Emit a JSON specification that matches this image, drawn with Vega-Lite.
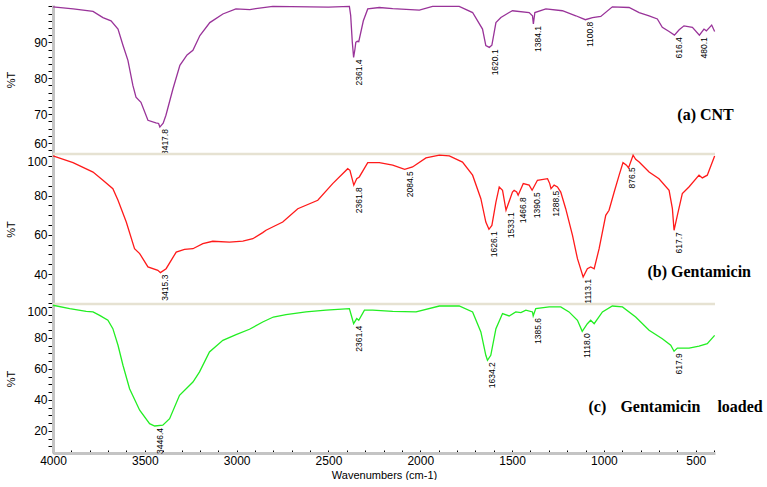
{
  "$schema": "https://vega.github.io/schema/vega-lite/v6.json",
  "padding": {"left": 5, "top": 3, "right": 0, "bottom": 0},
  "background": "white",
  "spacing": 0,
  "bounds": "flush",
  "config": {
    "view": {"stroke": null},
    "concat": {"spacing": 0},
    "font": "Liberation Sans",
    "axis": {
      "grid": false,
      "domainColor": "#c4c4c4",
      "domainWidth": 3,
      "tickColor": "#000000",
      "tickWidth": 1,
      "tickSize": 5,
      "labelFont": "Liberation Sans",
      "labelFontSize": 12,
      "labelColor": "#000000",
      "labelPadding": 1,
      "labelOverlap": false,
      "titleFont": "Liberation Sans",
      "titleFontSize": 11,
      "titleFontWeight": "normal",
      "titleColor": "#000000"
    }
  },
  "datasets": {
    "cnt": [
      {"wn": 4000, "t": 99.9}, {"wn": 3890, "t": 99.3}, {"wn": 3782, "t": 98.6}, {"wn": 3728, "t": 96.9}, {"wn": 3684, "t": 96.0},
      {"wn": 3646, "t": 93.7}, {"wn": 3619, "t": 89.2}, {"wn": 3592, "t": 85.0}, {"wn": 3565, "t": 78.0}, {"wn": 3548, "t": 74.7},
      {"wn": 3521, "t": 73.3}, {"wn": 3483, "t": 68.3}, {"wn": 3440, "t": 67.6}, {"wn": 3425, "t": 67.4}, {"wn": 3418, "t": 66.4},
      {"wn": 3400, "t": 67.5}, {"wn": 3385, "t": 69.7}, {"wn": 3347, "t": 77.0}, {"wn": 3309, "t": 83.6}, {"wn": 3270, "t": 86.5},
      {"wn": 3238, "t": 87.8}, {"wn": 3200, "t": 91.9}, {"wn": 3146, "t": 95.5}, {"wn": 3075, "t": 97.9}, {"wn": 3004, "t": 99.3},
      {"wn": 2928, "t": 99.1}, {"wn": 2896, "t": 99.4}, {"wn": 2803, "t": 100.0}, {"wn": 2500, "t": 99.8}, {"wn": 2386, "t": 100.0},
      {"wn": 2379, "t": 97.5}, {"wn": 2370, "t": 90.0}, {"wn": 2363, "t": 85.8}, {"wn": 2356, "t": 88.0}, {"wn": 2351, "t": 90.0},
      {"wn": 2343, "t": 90.3}, {"wn": 2335, "t": 90.2}, {"wn": 2310, "t": 96.0}, {"wn": 2286, "t": 99.3}, {"wn": 2223, "t": 99.7},
      {"wn": 2150, "t": 99.4}, {"wn": 2005, "t": 99.0}, {"wn": 1933, "t": 100.0}, {"wn": 1788, "t": 100.0}, {"wn": 1715, "t": 98.3},
      {"wn": 1661, "t": 93.7}, {"wn": 1643, "t": 89.1}, {"wn": 1624, "t": 88.6}, {"wn": 1610, "t": 89.2}, {"wn": 1588, "t": 95.5},
      {"wn": 1561, "t": 96.9}, {"wn": 1516, "t": 98.3}, {"wn": 1498, "t": 98.8}, {"wn": 1407, "t": 98.3}, {"wn": 1389, "t": 97.4},
      {"wn": 1384, "t": 95.1}, {"wn": 1376, "t": 98.3}, {"wn": 1316, "t": 99.3}, {"wn": 1226, "t": 98.8}, {"wn": 1153, "t": 97.4},
      {"wn": 1101, "t": 96.3}, {"wn": 1062, "t": 96.9}, {"wn": 1017, "t": 97.2}, {"wn": 954, "t": 99.9}, {"wn": 863, "t": 99.7},
      {"wn": 808, "t": 98.3}, {"wn": 754, "t": 97.4}, {"wn": 709, "t": 96.5}, {"wn": 682, "t": 94.2}, {"wn": 645, "t": 93.0},
      {"wn": 616, "t": 92.0}, {"wn": 590, "t": 93.5}, {"wn": 564, "t": 94.6}, {"wn": 518, "t": 94.2}, {"wn": 480, "t": 92.0},
      {"wn": 455, "t": 93.7}, {"wn": 442, "t": 93.2}, {"wn": 413, "t": 94.8}, {"wn": 397, "t": 93.0}
    ],
    "gen": [
      {"wn": 4000, "t": 100.2}, {"wn": 3891, "t": 96.8}, {"wn": 3782, "t": 92.0}, {"wn": 3728, "t": 87.8}, {"wn": 3674, "t": 83.5},
      {"wn": 3646, "t": 77.6}, {"wn": 3601, "t": 66.5}, {"wn": 3556, "t": 52.9}, {"wn": 3528, "t": 50.4}, {"wn": 3483, "t": 43.6},
      {"wn": 3429, "t": 41.9}, {"wn": 3415, "t": 40.7}, {"wn": 3384, "t": 42.7}, {"wn": 3329, "t": 51.2}, {"wn": 3284, "t": 52.6},
      {"wn": 3238, "t": 52.9}, {"wn": 3184, "t": 55.5}, {"wn": 3130, "t": 56.7}, {"wn": 3039, "t": 56.3}, {"wn": 2966, "t": 56.8},
      {"wn": 2912, "t": 58.0}, {"wn": 2858, "t": 61.1}, {"wn": 2840, "t": 62.3}, {"wn": 2749, "t": 66.5}, {"wn": 2667, "t": 73.3},
      {"wn": 2558, "t": 77.6}, {"wn": 2477, "t": 86.1}, {"wn": 2395, "t": 93.7}, {"wn": 2383, "t": 92.9}, {"wn": 2362, "t": 85.3},
      {"wn": 2346, "t": 88.6}, {"wn": 2332, "t": 89.5}, {"wn": 2286, "t": 96.8}, {"wn": 2223, "t": 96.8}, {"wn": 2150, "t": 95.5},
      {"wn": 2085, "t": 93.4}, {"wn": 2042, "t": 94.6}, {"wn": 1969, "t": 99.2}, {"wn": 1896, "t": 100.6}, {"wn": 1842, "t": 100.2},
      {"wn": 1770, "t": 97.1}, {"wn": 1715, "t": 90.4}, {"wn": 1670, "t": 78.4}, {"wn": 1643, "t": 66.5}, {"wn": 1626, "t": 62.8},
      {"wn": 1610, "t": 64.8}, {"wn": 1588, "t": 76.7}, {"wn": 1570, "t": 84.4}, {"wn": 1552, "t": 82.7}, {"wn": 1533, "t": 72.5},
      {"wn": 1498, "t": 81.8}, {"wn": 1489, "t": 82.7}, {"wn": 1475, "t": 81.8}, {"wn": 1467, "t": 80.2}, {"wn": 1439, "t": 86.1},
      {"wn": 1407, "t": 85.3}, {"wn": 1391, "t": 82.7}, {"wn": 1362, "t": 87.8}, {"wn": 1307, "t": 88.6}, {"wn": 1295, "t": 86.1},
      {"wn": 1288, "t": 83.5}, {"wn": 1271, "t": 85.3}, {"wn": 1253, "t": 84.4}, {"wn": 1235, "t": 81.8}, {"wn": 1208, "t": 73.3},
      {"wn": 1171, "t": 59.7}, {"wn": 1144, "t": 47.8}, {"wn": 1113, "t": 38.5}, {"wn": 1090, "t": 42.7}, {"wn": 1072, "t": 43.6},
      {"wn": 1053, "t": 42.7}, {"wn": 1026, "t": 52.9}, {"wn": 990, "t": 69.9}, {"wn": 972, "t": 72.5}, {"wn": 944, "t": 81.8},
      {"wn": 917, "t": 90.4}, {"wn": 896, "t": 96.8}, {"wn": 877, "t": 95.5}, {"wn": 866, "t": 94.1}, {"wn": 841, "t": 100.6},
      {"wn": 827, "t": 98.5}, {"wn": 808, "t": 97.1}, {"wn": 754, "t": 92.0}, {"wn": 700, "t": 88.6}, {"wn": 645, "t": 82.7},
      {"wn": 627, "t": 73.3}, {"wn": 618, "t": 62.3}, {"wn": 600, "t": 69.9}, {"wn": 573, "t": 81.0}, {"wn": 537, "t": 84.4},
      {"wn": 482, "t": 90.4}, {"wn": 464, "t": 89.0}, {"wn": 437, "t": 90.4}, {"wn": 397, "t": 100.2}
    ],
    "load": [
      {"wn": 4000, "t": 101.1}, {"wn": 3909, "t": 98.9}, {"wn": 3819, "t": 97.2}, {"wn": 3782, "t": 96.8}, {"wn": 3746, "t": 94.6},
      {"wn": 3701, "t": 91.4}, {"wn": 3674, "t": 86.0}, {"wn": 3646, "t": 75.3}, {"wn": 3619, "t": 62.4}, {"wn": 3583, "t": 47.3},
      {"wn": 3528, "t": 33.4}, {"wn": 3474, "t": 24.7}, {"wn": 3446, "t": 23.2}, {"wn": 3402, "t": 23.7}, {"wn": 3365, "t": 27.9},
      {"wn": 3311, "t": 43.0}, {"wn": 3238, "t": 51.6}, {"wn": 3202, "t": 58.1}, {"wn": 3148, "t": 71.0}, {"wn": 3075, "t": 78.5},
      {"wn": 3003, "t": 82.1}, {"wn": 2930, "t": 85.6}, {"wn": 2858, "t": 90.3}, {"wn": 2800, "t": 93.5}, {"wn": 2731, "t": 95.0},
      {"wn": 2622, "t": 96.8}, {"wn": 2513, "t": 97.9}, {"wn": 2386, "t": 98.9}, {"wn": 2373, "t": 93.5}, {"wn": 2363, "t": 89.2},
      {"wn": 2346, "t": 92.5}, {"wn": 2335, "t": 91.4}, {"wn": 2304, "t": 97.9}, {"wn": 2259, "t": 97.9}, {"wn": 2150, "t": 97.2},
      {"wn": 2023, "t": 96.8}, {"wn": 1896, "t": 100.6}, {"wn": 1788, "t": 100.6}, {"wn": 1715, "t": 96.8}, {"wn": 1670, "t": 83.9},
      {"wn": 1643, "t": 68.8}, {"wn": 1634, "t": 65.6}, {"wn": 1616, "t": 68.8}, {"wn": 1588, "t": 86.0}, {"wn": 1552, "t": 95.7},
      {"wn": 1516, "t": 94.2}, {"wn": 1480, "t": 96.8}, {"wn": 1452, "t": 96.3}, {"wn": 1425, "t": 97.9}, {"wn": 1389, "t": 96.8},
      {"wn": 1385, "t": 94.2}, {"wn": 1371, "t": 98.9}, {"wn": 1298, "t": 100.0}, {"wn": 1235, "t": 100.0}, {"wn": 1190, "t": 96.8},
      {"wn": 1144, "t": 91.4}, {"wn": 1118, "t": 84.3}, {"wn": 1090, "t": 89.2}, {"wn": 1072, "t": 91.4}, {"wn": 1053, "t": 89.2},
      {"wn": 1008, "t": 96.8}, {"wn": 954, "t": 100.6}, {"wn": 899, "t": 100.0}, {"wn": 827, "t": 93.5}, {"wn": 754, "t": 85.0},
      {"wn": 682, "t": 79.5}, {"wn": 636, "t": 75.3}, {"wn": 618, "t": 71.4}, {"wn": 600, "t": 73.5}, {"wn": 536, "t": 73.5},
      {"wn": 482, "t": 74.8}, {"wn": 437, "t": 76.3}, {"wn": 397, "t": 81.7}
    ],
    "peaks": [
      {"s": "a", "wn": 3417.8, "t": 66.4, "label": "3417.8"},
      {"s": "a", "wn": 2361.4, "t": 85.8, "label": "2361.4"},
      {"s": "a", "wn": 1620.1, "t": 88.6, "label": "1620.1"},
      {"s": "a", "wn": 1384.1, "t": 95.1, "label": "1384.1"},
      {"s": "a", "wn": 1100.8, "t": 96.3, "label": "1100.8"},
      {"s": "a", "wn": 616.4, "t": 92.0, "label": "616.4"},
      {"s": "a", "wn": 480.1, "t": 92.0, "label": "480.1"},
      {"s": "b", "wn": 3415.3, "t": 40.7, "label": "3415.3"},
      {"s": "b", "wn": 2361.8, "t": 85.3, "label": "2361.8"},
      {"s": "b", "wn": 2084.5, "t": 93.4, "label": "2084.5"},
      {"s": "b", "wn": 1626.1, "t": 62.8, "label": "1626.1"},
      {"s": "b", "wn": 1533.1, "t": 72.5, "label": "1533.1"},
      {"s": "b", "wn": 1466.8, "t": 80.2, "label": "1466.8"},
      {"s": "b", "wn": 1390.5, "t": 82.7, "label": "1390.5"},
      {"s": "b", "wn": 1288.5, "t": 83.5, "label": "1288.5"},
      {"s": "b", "wn": 1113.1, "t": 38.5, "label": "1113.1"},
      {"s": "b", "wn": 876.5, "t": 95.5, "label": "876.5"},
      {"s": "b", "wn": 617.7, "t": 62.3, "label": "617.7"},
      {"s": "c", "wn": 3446.4, "t": 23.2, "label": "3446.4"},
      {"s": "c", "wn": 2361.4, "t": 89.2, "label": "2361.4"},
      {"s": "c", "wn": 1634.2, "t": 65.6, "label": "1634.2"},
      {"s": "c", "wn": 1385.6, "t": 94.2, "label": "1385.6"},
      {"s": "c", "wn": 1118.0, "t": 84.3, "label": "1118.0"},
      {"s": "c", "wn": 617.9, "t": 71.4, "label": "617.9"}
    ],
    "notes": [
      {"s": "a", "wn": 600, "t": 69.7, "text": "(a) CNT"},
      {"s": "b", "wn": 763, "t": 41.0, "text": "(b) Gentamicin"},
      {"s": "c", "wn": 1084, "t": 35.5, "text": "(c)"},
      {"s": "c", "wn": 910, "t": 35.5, "text": "Gentamicin"},
      {"s": "c", "wn": 382, "t": 35.5, "text": "loaded"}
    ],
    "one": [{}]
  },
  "vconcat": [
    {
      "width": 662,
      "height": 149,
      "layer": [
        {
          "data": {"name": "cnt"},
          "mark": {"type": "line", "color": "#993399", "strokeWidth": 1.3},
          "encoding": {
            "x": {"field": "wn", "type": "quantitative", "scale": {"domain": [4000, 395], "nice": false, "zero": false}, "axis": null},
            "y": {"field": "t", "type": "quantitative", "title": "%T", "scale": {"domain": [58.9, 100.4], "nice": false, "zero": false},
              "axis": {"values": [60,62,64,66,68,70,72,74,76,78,80,82,84,86,88,90,92,94,96,98,100], "labelExpr": "datum.value % 10 === 0 && datum.value < 100 ? datum.label : ''", "labelFlush": 5, "labelOverlap": false, "titleX": -37}}
          }
        },
        {
          "data": {"name": "peaks"},
          "transform": [{"filter": "datum.s === 'a'"}],
          "mark": {"type": "text", "angle": 270, "align": "right", "baseline": "middle", "dx": -2, "dy": 5, "fontSize": 8.5, "font": "Liberation Sans", "color": "#000000"},
          "encoding": {
            "x": {"field": "wn", "type": "quantitative", "scale": {"domain": [4000, 395], "nice": false, "zero": false}, "axis": null},
            "y": {"field": "t", "type": "quantitative", "title": "%T", "scale": {"domain": [58.9, 100.4], "nice": false, "zero": false},
              "axis": {"values": [60,62,64,66,68,70,72,74,76,78,80,82,84,86,88,90,92,94,96,98,100], "labelExpr": "datum.value % 10 === 0 && datum.value < 100 ? datum.label : ''", "labelFlush": 5, "labelOverlap": false, "titleX": -37}},
            "text": {"field": "label"}
          }
        },
        {
          "data": {"name": "notes"},
          "transform": [{"filter": "datum.s === 'a'"}],
          "mark": {"type": "text", "align": "left", "baseline": "middle", "fontSize": 16, "font": "Liberation Serif", "fontWeight": "bold", "color": "#000000"},
          "encoding": {
            "x": {"field": "wn", "type": "quantitative", "scale": {"domain": [4000, 395], "nice": false, "zero": false}, "axis": null},
            "y": {"field": "t", "type": "quantitative", "title": "%T", "scale": {"domain": [58.9, 100.4], "nice": false, "zero": false},
              "axis": {"values": [60,62,64,66,68,70,72,74,76,78,80,82,84,86,88,90,92,94,96,98,100], "labelExpr": "datum.value % 10 === 0 && datum.value < 100 ? datum.label : ''", "labelFlush": 5, "labelOverlap": false, "titleX": -37}},
            "text": {"field": "text"}
          }
        }
      ]
    },
    {
      "width": 662,
      "height": 150,
      "layer": [
        {
          "data": {"name": "one"},
          "mark": {"type": "rule", "color": "#e6e2d2", "strokeWidth": 2.5},
          "encoding": {"y": {"datum": 101.2, "type": "quantitative", "title": "%T", "scale": {"domain": [24.7, 101.2], "nice": false, "zero": false},
              "axis": {"values": [25,30,35,40,45,50,55,60,65,70,75,80,85,90,95,100], "labelExpr": "datum.value % 20 === 0 ? datum.label : ''", "labelFlush": 5, "labelOverlap": false, "titleX": -37}}}
        },
        {
          "data": {"name": "gen"},
          "mark": {"type": "line", "color": "#ff1a1a", "strokeWidth": 1.3},
          "encoding": {
            "x": {"field": "wn", "type": "quantitative", "scale": {"domain": [4000, 395], "nice": false, "zero": false}, "axis": null},
            "y": {"field": "t", "type": "quantitative", "title": "%T", "scale": {"domain": [24.7, 101.2], "nice": false, "zero": false},
              "axis": {"values": [25,30,35,40,45,50,55,60,65,70,75,80,85,90,95,100], "labelExpr": "datum.value % 20 === 0 ? datum.label : ''", "labelFlush": 5, "labelOverlap": false, "titleX": -37}}
          }
        },
        {
          "data": {"name": "peaks"},
          "transform": [{"filter": "datum.s === 'b'"}],
          "mark": {"type": "text", "angle": 270, "align": "right", "baseline": "middle", "dx": -2, "dy": 5, "fontSize": 8.5, "font": "Liberation Sans", "color": "#000000"},
          "encoding": {
            "x": {"field": "wn", "type": "quantitative", "scale": {"domain": [4000, 395], "nice": false, "zero": false}, "axis": null},
            "y": {"field": "t", "type": "quantitative", "title": "%T", "scale": {"domain": [24.7, 101.2], "nice": false, "zero": false},
              "axis": {"values": [25,30,35,40,45,50,55,60,65,70,75,80,85,90,95,100], "labelExpr": "datum.value % 20 === 0 ? datum.label : ''", "labelFlush": 5, "labelOverlap": false, "titleX": -37}},
            "text": {"field": "label"}
          }
        },
        {
          "data": {"name": "notes"},
          "transform": [{"filter": "datum.s === 'b'"}],
          "mark": {"type": "text", "align": "left", "baseline": "middle", "fontSize": 16, "font": "Liberation Serif", "fontWeight": "bold", "color": "#000000"},
          "encoding": {
            "x": {"field": "wn", "type": "quantitative", "scale": {"domain": [4000, 395], "nice": false, "zero": false}, "axis": null},
            "y": {"field": "t", "type": "quantitative", "title": "%T", "scale": {"domain": [24.7, 101.2], "nice": false, "zero": false},
              "axis": {"values": [25,30,35,40,45,50,55,60,65,70,75,80,85,90,95,100], "labelExpr": "datum.value % 20 === 0 ? datum.label : ''", "labelFlush": 5, "labelOverlap": false, "titleX": -37}},
            "text": {"field": "text"}
          }
        }
      ]
    },
    {
      "width": 662,
      "height": 149,
      "layer": [
        {
          "data": {"name": "one"},
          "mark": {"type": "rule", "color": "#e6e2d2", "strokeWidth": 2.5},
          "encoding": {"y": {"datum": 101.9, "type": "quantitative", "title": "%T", "scale": {"domain": [5.8, 101.9], "nice": false, "zero": false},
              "axis": {"values": [10,15,20,25,30,35,40,45,50,55,60,65,70,75,80,85,90,95,100], "labelExpr": "datum.value % 20 === 0 ? datum.label : ''", "labelFlush": 5, "labelOverlap": false, "titleX": -37}}}
        },
        {
          "data": {"name": "load"},
          "mark": {"type": "line", "color": "#22ee22", "strokeWidth": 1.3},
          "encoding": {
            "x": {"field": "wn", "type": "quantitative", "title": "Wavenumbers (cm-1)", "scale": {"domain": [4000, 395], "nice": false, "zero": false},
              "axis": {"values": [4000,3900,3800,3700,3600,3500,3400,3300,3200,3100,3000,2900,2800,2700,2600,2500,2400,2300,2200,2100,2000,1900,1800,1700,1600,1500,1400,1300,1200,1100,1000,900,800,700,600,500,400], "format": "d", "labelExpr": "datum.value % 500 === 0 ? datum.label : ''", "labelFlush": false, "labelOverlap": false, "tickSize": -3, "labelPadding": 5, "titlePadding": 3}},
            "y": {"field": "t", "type": "quantitative", "title": "%T", "scale": {"domain": [5.8, 101.9], "nice": false, "zero": false},
              "axis": {"values": [10,15,20,25,30,35,40,45,50,55,60,65,70,75,80,85,90,95,100], "labelExpr": "datum.value % 20 === 0 ? datum.label : ''", "labelFlush": 5, "labelOverlap": false, "titleX": -37}}
          }
        },
        {
          "data": {"name": "peaks"},
          "transform": [{"filter": "datum.s === 'c'"}],
          "mark": {"type": "text", "angle": 270, "align": "right", "baseline": "middle", "dx": -2, "dy": 5, "fontSize": 8.5, "font": "Liberation Sans", "color": "#000000"},
          "encoding": {
            "x": {"field": "wn", "type": "quantitative", "title": "Wavenumbers (cm-1)", "scale": {"domain": [4000, 395], "nice": false, "zero": false},
              "axis": {"values": [4000,3900,3800,3700,3600,3500,3400,3300,3200,3100,3000,2900,2800,2700,2600,2500,2400,2300,2200,2100,2000,1900,1800,1700,1600,1500,1400,1300,1200,1100,1000,900,800,700,600,500,400], "format": "d", "labelExpr": "datum.value % 500 === 0 ? datum.label : ''", "labelFlush": false, "labelOverlap": false, "tickSize": -3, "labelPadding": 5, "titlePadding": 3}},
            "y": {"field": "t", "type": "quantitative", "title": "%T", "scale": {"domain": [5.8, 101.9], "nice": false, "zero": false},
              "axis": {"values": [10,15,20,25,30,35,40,45,50,55,60,65,70,75,80,85,90,95,100], "labelExpr": "datum.value % 20 === 0 ? datum.label : ''", "labelFlush": 5, "labelOverlap": false, "titleX": -37}},
            "text": {"field": "label"}
          }
        },
        {
          "data": {"name": "notes"},
          "transform": [{"filter": "datum.s === 'c'"}],
          "mark": {"type": "text", "align": "left", "baseline": "middle", "fontSize": 16, "font": "Liberation Serif", "fontWeight": "bold", "color": "#000000"},
          "encoding": {
            "x": {"field": "wn", "type": "quantitative", "title": "Wavenumbers (cm-1)", "scale": {"domain": [4000, 395], "nice": false, "zero": false},
              "axis": {"values": [4000,3900,3800,3700,3600,3500,3400,3300,3200,3100,3000,2900,2800,2700,2600,2500,2400,2300,2200,2100,2000,1900,1800,1700,1600,1500,1400,1300,1200,1100,1000,900,800,700,600,500,400], "format": "d", "labelExpr": "datum.value % 500 === 0 ? datum.label : ''", "labelFlush": false, "labelOverlap": false, "tickSize": -3, "labelPadding": 5, "titlePadding": 3}},
            "y": {"field": "t", "type": "quantitative", "title": "%T", "scale": {"domain": [5.8, 101.9], "nice": false, "zero": false},
              "axis": {"values": [10,15,20,25,30,35,40,45,50,55,60,65,70,75,80,85,90,95,100], "labelExpr": "datum.value % 20 === 0 ? datum.label : ''", "labelFlush": 5, "labelOverlap": false, "titleX": -37}},
            "text": {"field": "text"}
          }
        }
      ]
    }
  ]
}
